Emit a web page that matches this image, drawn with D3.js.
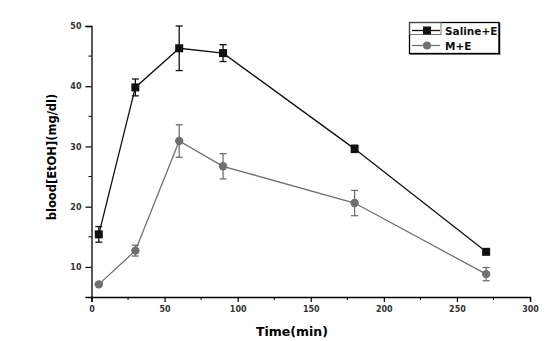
<!DOCTYPE html>
<html><head><meta charset="utf-8">
<script src="https://cdn.jsdelivr.net/npm/d3@7/dist/d3.min.js"></script>
<style>body{margin:0;background:#fff}svg{display:block}</style>
</head><body>
<svg id="c" width="556" height="341"></svg>
<script>
const times = [5, 30, 60, 90, 180, 270];
const salineMean = [15.4, 39.8, 46.3, 45.5, 29.6, 12.5];
const salineErr  = [1.3, 1.4, 3.7, 1.4, 0.6, 0.2];
const meMean = [7.1, 12.7, 30.9, 26.7, 20.6, 8.8];
const meErr  = [0.2, 0.9, 2.7, 2.1, 2.1, 1.1];
const xTicks = [0, 50, 100, 150, 200, 250, 300];
const yTicks = [10, 20, 30, 40, 50];
const seriesNames = ["Saline+E", "M+E"];
const seriesColors = ["#111111", "#707070"];

const svg = d3.select("#c");
const x = d3.scaleLinear().domain([0, 300]).range([91.5, 530]);
const y = d3.scaleLinear().domain([5, 50]).range([297, 26]);
const font = "'DejaVu Sans', sans-serif";

// axes
const xAxis = d3.axisBottom(x).tickValues(xTicks).tickSize(5).tickPadding(4);
const gx = svg.append("g").attr("transform", `translate(0,${y(5)})`).call(xAxis);
gx.selectAll("g.minor").data(d3.range(25, 300, 50)).enter().append("line")
  .attr("x1", d => x(d)).attr("x2", d => x(d)).attr("y1", 0).attr("y2", 3).attr("stroke", "#000");
const yAxis = d3.axisLeft(y).tickValues(yTicks).tickSize(6).tickPadding(4);
const gy = svg.append("g").attr("transform", `translate(${x(0)},0)`).call(yAxis);
gy.selectAll("g.minor").data([15, 25, 35, 45]).enter().append("line")
  .attr("y1", d => y(d)).attr("y2", d => y(d)).attr("x1", 0).attr("x2", -3).attr("stroke", "#000");
[gx, gy].forEach(g => {
  g.select(".domain").attr("stroke", "#000").attr("stroke-width", 1.3);
  g.selectAll(".tick line").attr("stroke", "#000").attr("stroke-width", 1.2);
  g.selectAll(".tick text").attr("font-family", font).attr("font-size", 8).attr("font-weight", "bold").attr("fill", "#333");
});

// axis titles
svg.append("text").attr("x", 292).attr("y", 336).attr("text-anchor", "middle")
  .attr("font-family", font).attr("font-weight", "bold").attr("font-size", 12.5).text("Time(min)");
svg.append("text").attr("transform", "translate(56,157) rotate(-90)").attr("text-anchor", "middle")
  .attr("font-family", font).attr("font-weight", "bold").attr("font-size", 11.5).text("blood[EtOH](mg/dl)");

// series
const series = [
  {mean: salineMean, err: salineErr, color: seriesColors[0], shape: "square"},
  {mean: meMean, err: meErr, color: seriesColors[1], shape: "circle"}
];
const line = d3.line().x(d => x(d[0])).y(d => y(d[1]));
series.forEach(s => {
  const pts = times.map((t, i) => [t, s.mean[i], s.err[i]]);
  const g = svg.append("g");
  g.append("path").attr("d", line(pts)).attr("fill", "none").attr("stroke", s.color).attr("stroke-width", 1.3);
  const eb = g.selectAll("g.eb").data(pts).enter().append("g").attr("stroke", s.color).attr("stroke-width", 1.3);
  eb.append("line").attr("x1", d => x(d[0])).attr("x2", d => x(d[0])).attr("y1", d => y(d[1] - d[2])).attr("y2", d => y(d[1] + d[2]));
  eb.append("line").attr("x1", d => x(d[0]) - 3.5).attr("x2", d => x(d[0]) + 3.5).attr("y1", d => y(d[1] + d[2])).attr("y2", d => y(d[1] + d[2]));
  eb.append("line").attr("x1", d => x(d[0]) - 3.5).attr("x2", d => x(d[0]) + 3.5).attr("y1", d => y(d[1] - d[2])).attr("y2", d => y(d[1] - d[2]));
  if (s.shape === "square") {
    g.selectAll("rect.m").data(pts).enter().append("rect")
      .attr("x", d => x(d[0]) - 4).attr("y", d => y(d[1]) - 4).attr("width", 8).attr("height", 8).attr("fill", s.color);
  } else {
    g.selectAll("circle.m").data(pts).enter().append("circle")
      .attr("cx", d => x(d[0])).attr("cy", d => y(d[1])).attr("r", 4.2).attr("fill", s.color);
  }
});

// legend
const lg = svg.append("g");
lg.append("rect").attr("x", 409.5).attr("y", 22.5).attr("width", 89.5).attr("height", 31)
  .attr("fill", "#fff").attr("stroke", "#000").attr("stroke-width", 1.3);
lg.append("line").attr("x1", 499.5).attr("x2", 499.5).attr("y1", 23).attr("y2", 54.5).attr("stroke", "#000").attr("stroke-width", 1.5);
lg.append("line").attr("x1", 410).attr("x2", 500).attr("y1", 54).attr("y2", 54).attr("stroke", "#000").attr("stroke-width", 1.2);
lg.append("rect").attr("x", 409.5).attr("y", 22.5).attr("width", 31.5).attr("height", 12)
  .attr("fill", "none").attr("stroke", "#555").attr("stroke-width", 0.8);
seriesNames.forEach((n, i) => {
  const yy = 30.5 + i * 15;
  lg.append("line").attr("x1", 412).attr("x2", 440).attr("y1", yy).attr("y2", yy).attr("stroke", seriesColors[i]).attr("stroke-width", 1.3);
  if (i === 0) lg.append("rect").attr("x", 423).attr("y", yy - 4).attr("width", 8).attr("height", 8).attr("fill", seriesColors[i]);
  else lg.append("circle").attr("cx", 427).attr("cy", yy).attr("r", 4).attr("fill", seriesColors[i]);
  lg.append("text").attr("x", 445).attr("y", yy + 4).attr("font-family", font).attr("font-weight", "bold").attr("font-size", 10.5).attr("fill", "#111").text(n);
});
</script>
</body></html>
